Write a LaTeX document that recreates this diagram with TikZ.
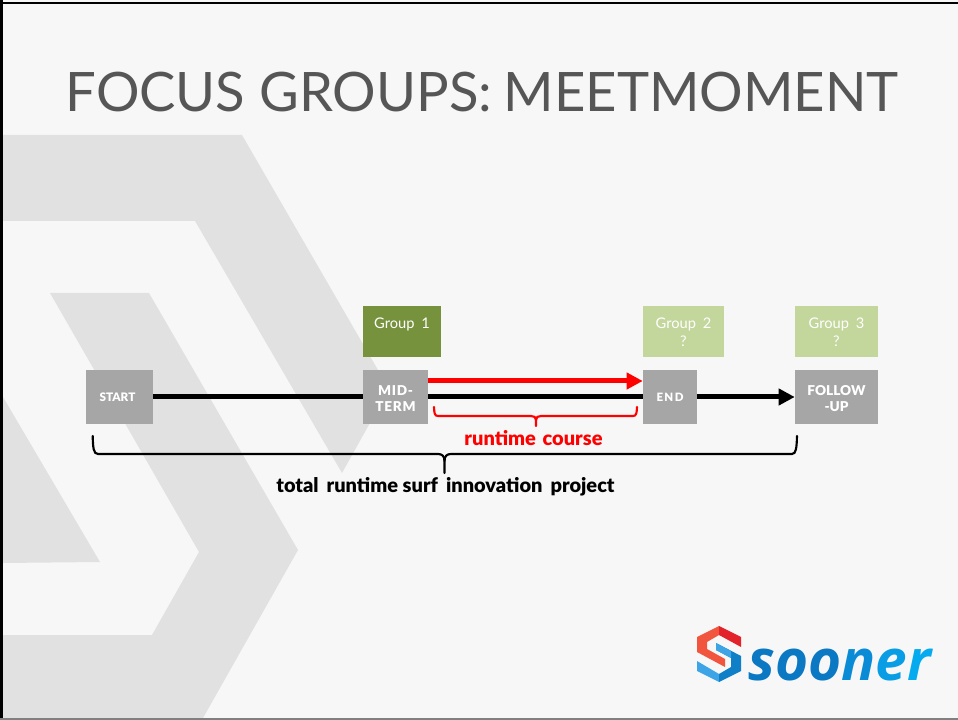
\documentclass[tikz,border=0pt]{standalone}
\usepackage{fontspec}
\usetikzlibrary{arrows.meta}
\setmainfont{Lato}
\newfontfamily\heavy{Lato Black}
\newfontfamily\logofont{Open Sans}[BoldItalicFont={Open Sans Bold Italic}]
\definecolor{bgc}{HTML}{F7F7F7}
\definecolor{bandc}{HTML}{E1E1E1}
\definecolor{boxc}{HTML}{A6A6A6}
\definecolor{darkg}{HTML}{76923C}
\definecolor{lightg}{HTML}{C3D69B}
\definecolor{titlec}{HTML}{565656}
\definecolor{lredA}{HTML}{F2553D}
\definecolor{lredB}{HTML}{E2232B}
\definecolor{lbluA}{HTML}{3DA5E6}
\definecolor{lbluB}{HTML}{0F7FC8}
\newcommand{\lowr}[1]{\raisebox{-0.9pt}[\height][\depth]{#1}}
\tikzset{
  x=0.75pt,y=-0.75pt,
  tbox/.style={fill=boxc,inner sep=0pt,text=white,align=center,minimum height=40.5pt,font=\heavy\fontsize{10.2}{12}\selectfont},
  gbox/.style={inner sep=0pt,text=white,align=center,minimum height=38.25pt,font=\fontsize{11}{13.5}\selectfont},
  bar/.style={line width=3.75pt,black},
  redbar/.style={line width=3.75pt,red},
  tipk/.style={-{Triangle[length=12pt,width=12pt]}},
  brace/.style={line width=1.6pt,line cap=round},
  label/.style={inner sep=0pt,anchor=base,font=\heavy\fontsize{15}{17}\selectfont},
}
\begin{document}
\begin{tikzpicture}
\useasboundingbox (0,0) rectangle (958,720);
\fill[bgc] (0,0) rectangle (958,720);
% background chevrons
\fill[bandc] (3,135) -- (242,135) -- (389,389) -- (342,473) -- (195,221) -- (3,221) -- cycle;
\fill[bandc] (50,293) -- (149,293) -- (298,550) -- (203,718) -- (3,718) -- (3,635) -- (152,635) -- (199,552) -- cycle;
\fill[bandc] (3,397) -- (100,562) -- (3,563) -- cycle;
% frame
\draw[black,line width=1.5pt] (0,3) -- (958,3);
\draw[black,line width=2.2pt] (1.5,0) -- (1.5,720);
\draw[gray,line width=1.2pt] (0,719) -- (958,719);
% title
\node[inner sep=0pt,anchor=base,text=titlec,font=\fontsize{40.8}{48}\selectfont] (title) at (482,111.5) {FOCUS GROUPS:\hspace{-2pt} MEETMOMENT};
% group boxes
\node[gbox,fill=darkg,minimum width=58.5pt] (g1) at (402,331.5) {\lowr{Group\hspace{5pt}1}\\\phantom{?}};
\node[gbox,fill=lightg,minimum width=60.75pt] (g2) at (683.5,331.5) {\lowr{Group\hspace{5pt}2}\\\lowr{?}};
\node[gbox,fill=lightg,minimum width=62.25pt] (g3) at (836.5,331.5) {\lowr{Group\hspace{5pt}3}\\\lowr{?}};
% timeline boxes
\node[tbox,minimum width=50.25pt,font=\heavy\fontsize{8.8}{9}\selectfont] (start) at (119.5,397) {START\hspace{3pt}};
\node[tbox,minimum width=48.75pt] (mid) at (395.5,397) {\lowr{\addfontfeature{LetterSpace=5}MID-}\\\lowr{\addfontfeature{LetterSpace=5}TERM}};
\node[tbox,minimum width=40.5pt,font=\heavy\fontsize{8.6}{9}\selectfont] (end) at (670,397) {\addfontfeature{LetterSpace=12}END};
\node[tbox,minimum width=62.25pt] (follow) at (836.5,397) {\lowr{FOLLOW}\\\lowr{-UP}};
% connectors
\draw[bar] (start) -- (mid);
\draw[bar] (mid) -- (end);
\draw[bar,tipk] (end) -- (follow);
\draw[redbar,tipk] ([yshift=12pt]mid.east) -- ([yshift=12pt]end.west);
% red brace
\coordinate (rb) at (536,416);
\draw[brace,red] (434,407) .. controls (434.3,413) and (434.5,416) .. (438,416) -- (531,416) .. controls (534,416) and (536,417) .. (536,420) -- (536,426);
\draw[brace,red] (637,407) .. controls (636.7,413) and (636.5,416) .. (633,416) -- (541,416) .. controls (538,416) and (536,417) .. (536,420);
\node[label,text=red] (rc) at (533.5,446) {runtime\hspace{5pt}course};
% black brace
\draw[brace,black] (92.7,436) .. controls (93,448) and (93.5,454) .. (98,454) -- (438,454) .. controls (442,454) and (444.5,456) .. (444.5,461) -- (444.5,473);
\draw[brace,black] (797,436) .. controls (796.7,448) and (796,454) .. (792,454) -- (451,454) .. controls (447,454) and (444.5,456) .. (444.5,461);
\node[label,text=black] (tr) at (445.5,493) {total\hspace{6pt}runtime surf\hspace{6pt}innovation\hspace{6pt}project};
% logo
\fill[lredA] (719,626) -- (719,635) -- (707,642) -- (707,649) -- (725,659) -- (725,667) -- (697,652) -- (697,637) -- cycle;
\fill[lredB] (719,626) -- (741,637) -- (741,647) -- (719,635) -- cycle;
\fill[lbluA] (719,682) -- (697,671) -- (697,661) -- (719,674) -- cycle;
\fill[lbluB] (719,682) -- (719,674) -- (731,667) -- (731,658) -- (716,650) -- (716,643) -- (741,656) -- (741,671) -- cycle;
\fill[lbluA] (716,643) -- (731,651) -- (731,658) -- (716,650) -- cycle;
\node[inner sep=0pt,anchor=base west,font=\logofont\bfseries\itshape\fontsize{42.5}{48}\selectfont] (logo) at (748,680) {\textcolor[HTML]{0A78C2}{soo}\textcolor[HTML]{0A8BD6}{n}\textcolor[HTML]{089DE4}{e}\textcolor[HTML]{05ABEE}{r}};
\end{tikzpicture}
\end{document}
